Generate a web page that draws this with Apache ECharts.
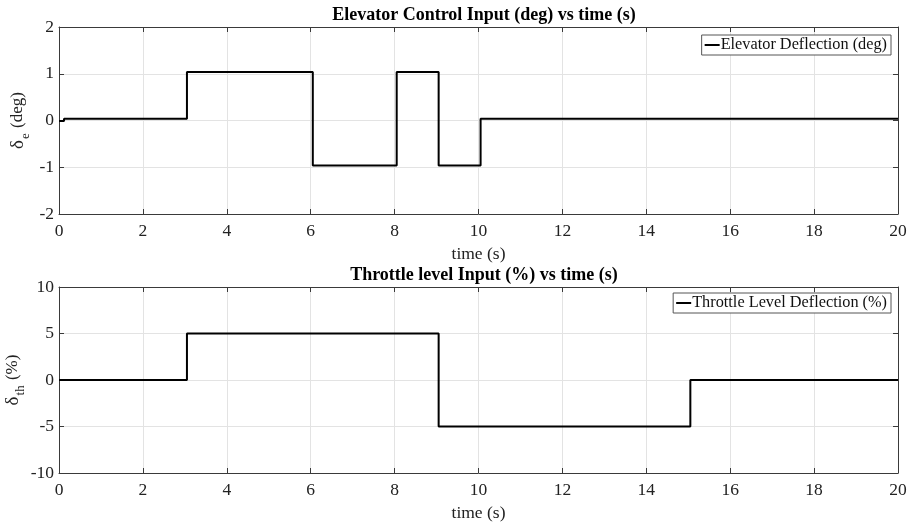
<!DOCTYPE html>
<html>
<head>
<meta charset="utf-8">
<script src="https://cdn.jsdelivr.net/npm/echarts@6/dist/echarts.min.js"></script>
<style>html,body{margin:0;padding:0;background:#fff}#c{width:910px;height:524px}</style>
</head>
<body>
<div id="c"></div>
<script>
// Elevator deflection (deg) vs time (s)
var elevTime  = [0, 0.12, 0.12, 3.05, 3.05, 6.05, 6.05, 8.05, 8.05, 9.05, 9.05, 10.05, 10.05, 20];
var elevValue = [-0.01, -0.01, 0.04, 0.04, 1.04, 1.04, -0.96, -0.96, 1.04, 1.04, -0.96, -0.96, 0.04, 0.04];
// Throttle level deflection (%) vs time (s)
var thrTime  = [0, 3.05, 3.05, 9.05, 9.05, 15.05, 15.05, 20];
var thrValue = [0, 0, 5, 5, -5, -5, 0, 0];

var titles = ['Elevator Control Input (deg) vs time (s)', 'Throttle level Input (%) vs time (s)'];
var legendNames = ['Elevator Deflection (deg)', 'Throttle Level Deflection (%)'];
var xTicks = [0, 2, 4, 6, 8, 10, 12, 14, 16, 18, 20];
var elevYTicks = [-2, -1, 0, 1, 2];
var thrYTicks = [-10, -5, 0, 5, 10];

function pairs(t, v) { return t.map(function (x, i) { return [x, v[i]]; }); }

var FONT = '"Liberation Serif", "Times New Roman", serif';
var AX = '#3a3a3a';
var GRIDC = '#e3e3e3';

function xAx(gi, bottom) {
  return {
    type: 'value', gridIndex: gi, min: xTicks[0], max: xTicks[xTicks.length - 1], interval: 2,
    position: bottom ? 'bottom' : 'top',
    name: bottom ? 'time (s)' : '', nameLocation: 'middle', nameGap: 31, nameMoveOverlap: false,
    nameTextStyle: { fontFamily: FONT, fontSize: 17.5, color: '#222' },
    axisLine: { show: true, onZero: false, lineStyle: { color: AX, width: 1 } },
    axisTick: { show: true, inside: true, length: 5, lineStyle: { color: AX } },
    axisLabel: { show: bottom, fontFamily: FONT, fontSize: 17.5, color: '#222', margin: 8 },
    splitLine: { show: bottom, lineStyle: { color: GRIDC, width: 1 } }
  };
}
function yAx(gi, left, ticks, name, gap) {
  return {
    type: 'value', gridIndex: gi, min: ticks[0], max: ticks[ticks.length - 1], interval: ticks[1] - ticks[0],
    position: left ? 'left' : 'right',
    name: left ? name : '', nameLocation: 'middle', nameGap: gap || 25, nameRotate: 90, nameMoveOverlap: false,
    nameTextStyle: {
      fontFamily: FONT, fontSize: 17, color: '#222',
      rich: {
        g: { fontFamily: FONT, fontSize: 19, color: '#222', lineHeight: 28, verticalAlign: 'middle' },
        s: { fontFamily: FONT, fontSize: 13, color: '#222', lineHeight: 28, verticalAlign: 'bottom', padding: [0, 1, 0, 1] },
        t: { fontFamily: FONT, fontSize: 17, color: '#222', lineHeight: 28, verticalAlign: 'middle' }
      }
    },
    axisLine: { show: true, onZero: false, lineStyle: { color: AX, width: 1 } },
    axisTick: { show: true, inside: true, length: 5, lineStyle: { color: AX } },
    axisLabel: { show: left, fontFamily: FONT, fontSize: 17.5, color: '#222', margin: 5 },
    splitLine: { show: left, lineStyle: { color: GRIDC, width: 1 } }
  };
}

var chart = echarts.init(document.getElementById('c'), null, { renderer: 'canvas' });
chart.setOption({
  animation: false,
  backgroundColor: '#fff',
  title: [
    { text: titles[0], left: 479, textAlign: 'center', top: 1,
      textStyle: { fontFamily: FONT, fontSize: 18, fontWeight: 'bold', color: '#000' } },
    { text: titles[1], left: 479, textAlign: 'center', top: 261,
      textStyle: { fontFamily: FONT, fontSize: 18, fontWeight: 'bold', color: '#000' } }
  ],
  grid: [
    { left: 59, right: 12, top: 27, height: 187, containLabel: false, outerBoundsMode: 'none' },
    { left: 59, right: 12, top: 287, height: 186, containLabel: false, outerBoundsMode: 'none' }
  ],
  xAxis: [xAx(0, true), xAx(0, false), xAx(1, true), xAx(1, false)],
  yAxis: [
    yAx(0, true, elevYTicks, '{g|δ}{s|e}{t| (deg)}', 27), yAx(0, false, elevYTicks, ''),
    yAx(1, true, thrYTicks, '{g|δ}{s|th}{t| (%)}', 32), yAx(1, false, thrYTicks, '')
  ],
  legend: [
    { data: [legendNames[0]], right: 19, top: 35, orient: 'vertical',
      icon: 'rect', itemWidth: 15, itemHeight: 2, itemGap: 0,
      padding: [2, 4, 2, 3], backgroundColor: '#fff', borderColor: '#555', borderWidth: 1, borderRadius: 0,
      textStyle: { fontFamily: FONT, fontSize: 16.3, color: '#111', padding: [0, 0, 0, -4] } },
    { data: [legendNames[1]], right: 19, top: 293, orient: 'vertical',
      icon: 'rect', itemWidth: 15, itemHeight: 2, itemGap: 0,
      padding: [2, 4, 2, 3], backgroundColor: '#fff', borderColor: '#555', borderWidth: 1, borderRadius: 0,
      textStyle: { fontFamily: FONT, fontSize: 16.3, color: '#111', padding: [0, 0, 0, -4] } }
  ],
  series: [
    { name: legendNames[0], type: 'line', xAxisIndex: 0, yAxisIndex: 0, data: pairs(elevTime, elevValue),
      showSymbol: false, symbol: 'none', lineStyle: { color: '#000', width: 2 }, itemStyle: { color: '#000' } },
    { name: legendNames[1], type: 'line', xAxisIndex: 2, yAxisIndex: 2, data: pairs(thrTime, thrValue),
      showSymbol: false, symbol: 'none', lineStyle: { color: '#000', width: 2 }, itemStyle: { color: '#000' } }
  ]
});
</script>
</body>
</html>
